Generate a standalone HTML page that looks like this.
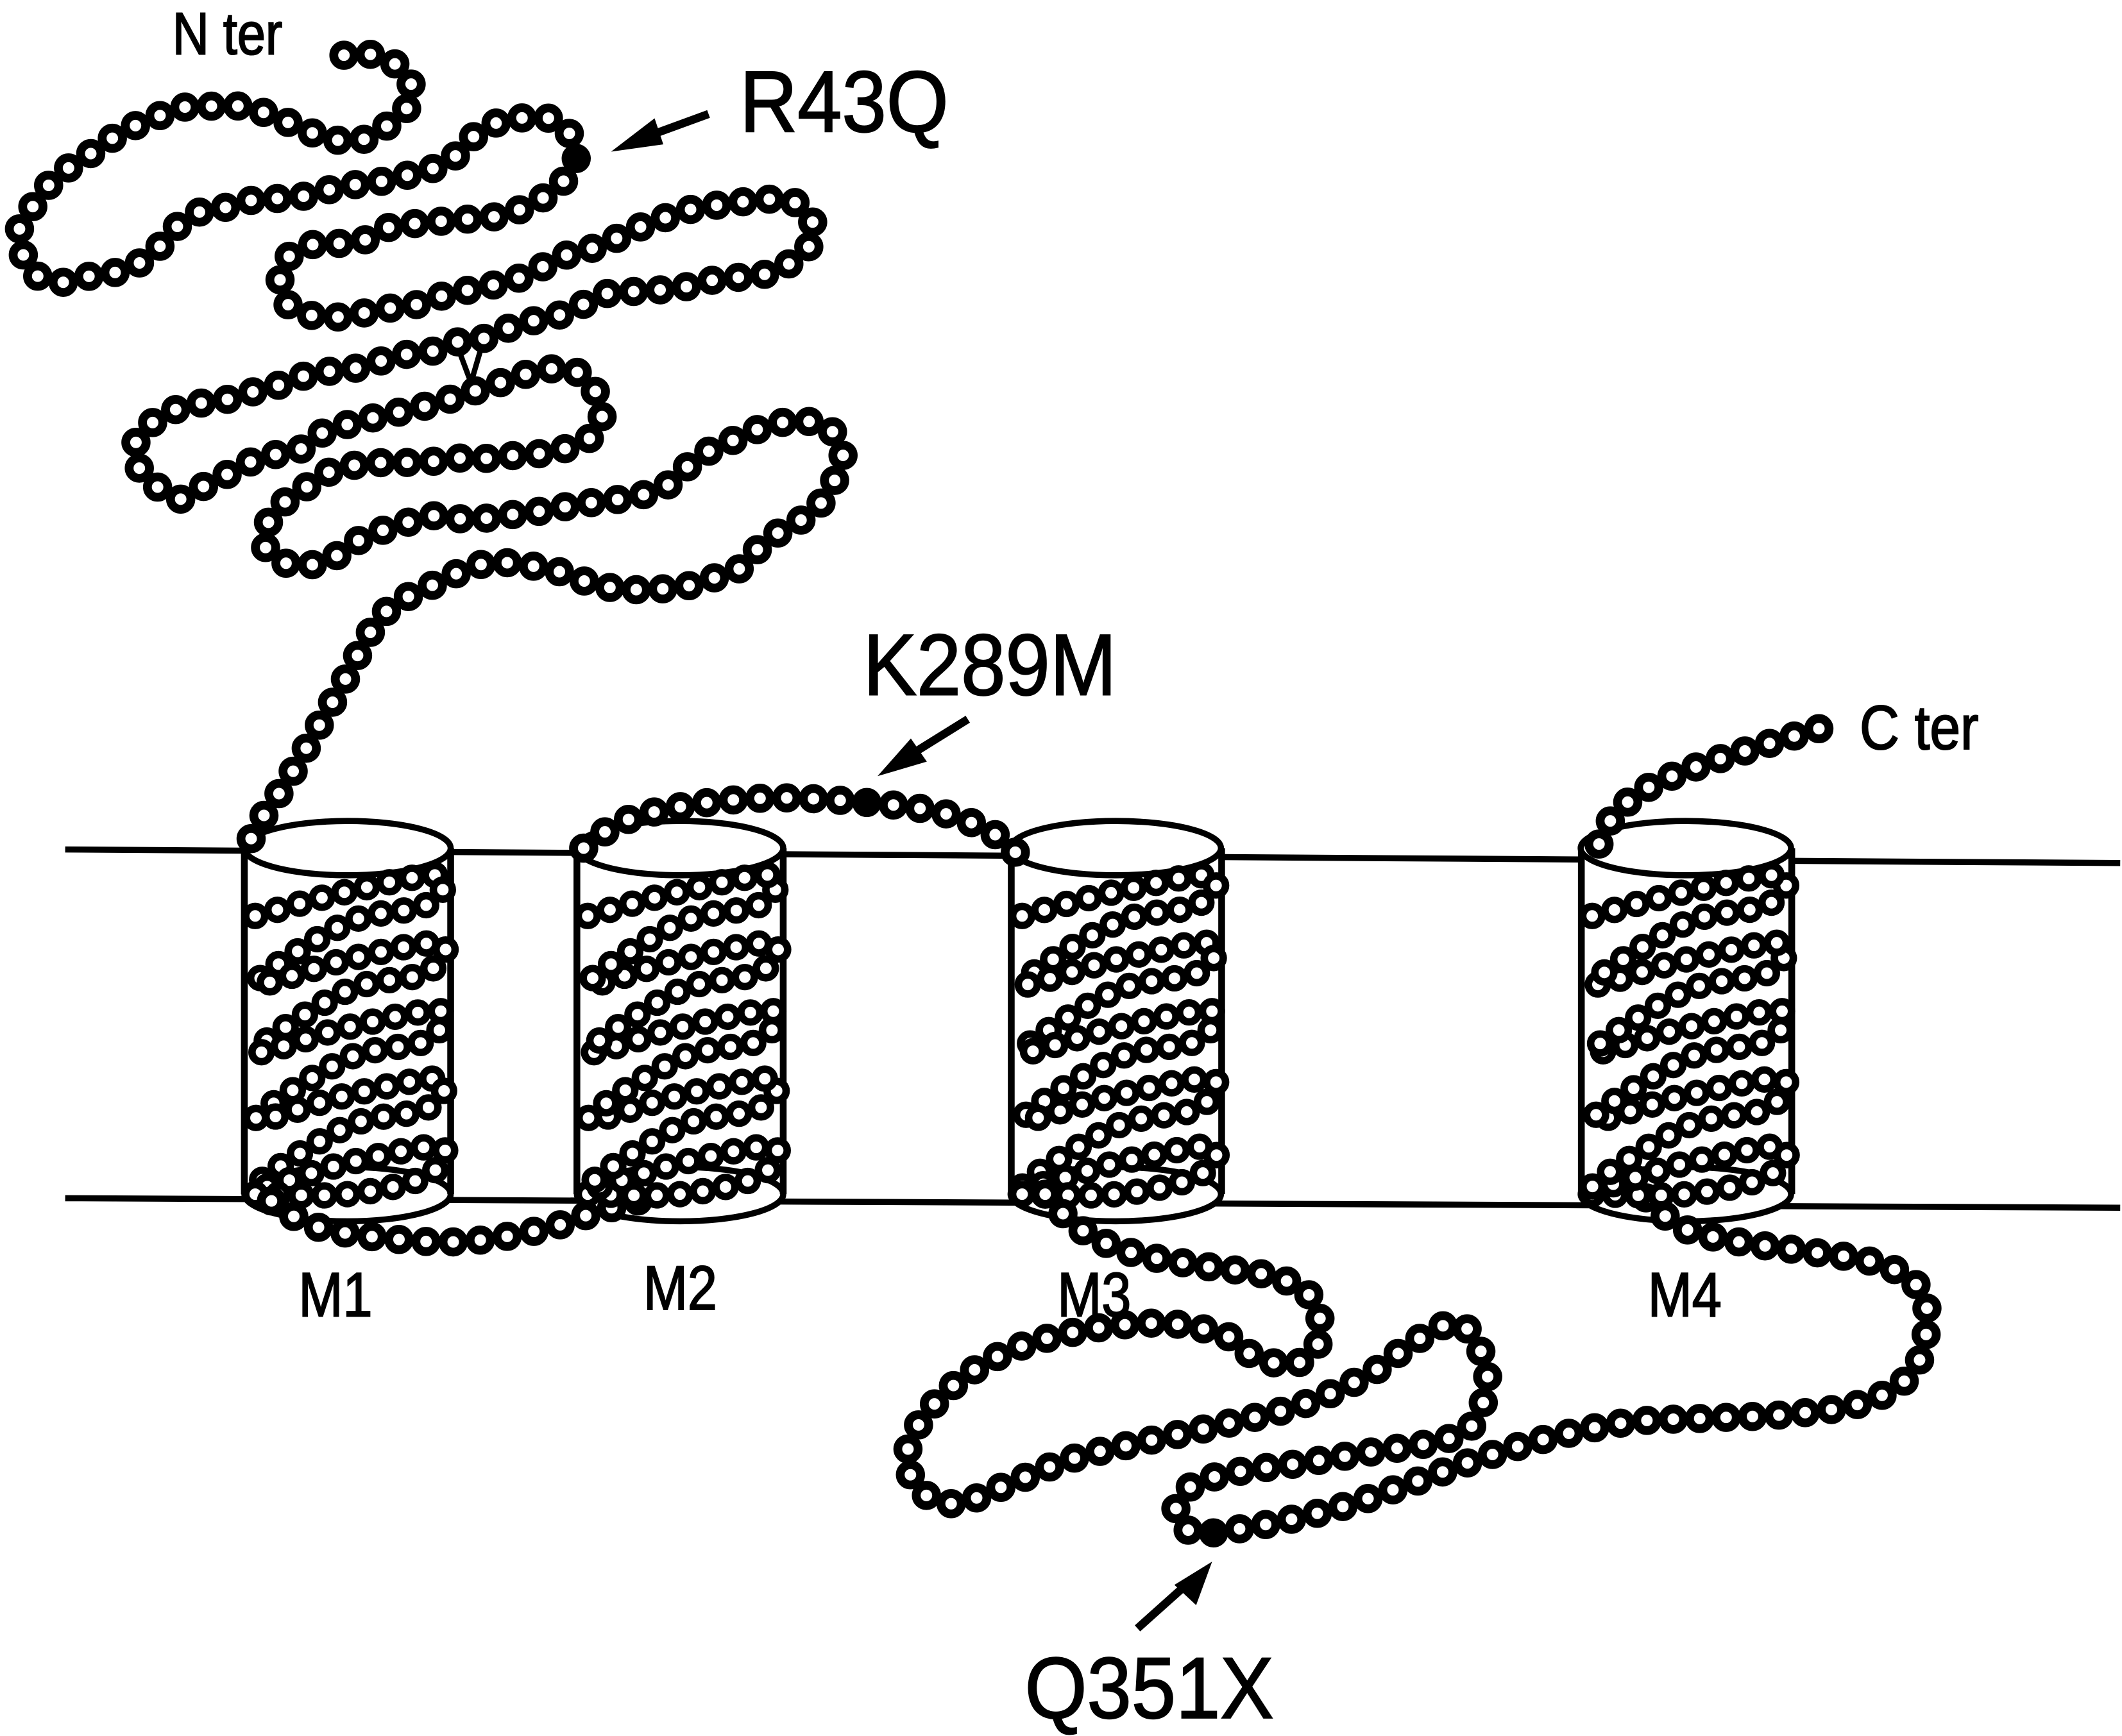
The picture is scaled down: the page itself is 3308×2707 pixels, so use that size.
<!DOCTYPE html>
<html><head><meta charset="utf-8"><style>
html,body{margin:0;padding:0;background:#fff;}
svg{display:block;}
text{font-family:"Liberation Sans",sans-serif;fill:#000;stroke:#000;stroke-width:1;}
</style></head><body>
<svg id="s" width="3308" height="2707" viewBox="0 0 1563.3 1279.3" xmlns="http://www.w3.org/2000/svg">
<rect x="0" y="0" width="1563.3" height="1279.3" fill="#fff"/>
<g stroke="#000" stroke-width="4.5" fill="none">
<line x1="48" y1="626" x2="1562" y2="636"/>
<line x1="48" y1="883" x2="1562" y2="890"/>
</g>
<g id="cyl"></g>
<g id="beads"></g>
<g stroke="#000" stroke-width="4" fill="none">
<line x1="338" y1="258" x2="347" y2="282"/><line x1="354" y1="258" x2="347" y2="282"/>
</g>
<g fill="#000" stroke="#000">
<line x1="522" y1="84" x2="470" y2="103" stroke-width="6"/><polygon points="452,111 482,88 488,106"/>
<line x1="713" y1="530" x2="668" y2="558" stroke-width="6"/><polygon points="648,571 671,545 682,561"/>
<line x1="838" y1="1200" x2="876" y2="1166" stroke-width="6"/><polygon points="892,1152 881,1182 866,1168"/>
</g>
<text x="127" y="40" font-size="44" transform="translate(127 0) scale(0.85 1) translate(-127 0)">N ter</text>
<text x="545" y="97" font-size="64" transform="translate(545 0) scale(0.92 1) translate(-545 0)">R43Q</text>
<text x="636" y="512" font-size="64" transform="translate(636 0) scale(0.92 1) translate(-636 0)">K289M</text>
<text x="1370" y="552" font-size="46" transform="translate(1370 0) scale(0.88 1) translate(-1370 0)">C ter</text>
<text x="755" y="1266" font-size="64" transform="translate(755 0) scale(0.92 1) translate(-755 0)">Q351X</text>
<text x="220" y="970" font-size="46" transform="translate(220 0) scale(0.85 1) translate(-220 0)">M1</text>
<text x="474" y="965" font-size="46" transform="translate(474 0) scale(0.85 1) translate(-474 0)">M2</text>
<text x="779" y="970" font-size="46" transform="translate(779 0) scale(0.85 1) translate(-779 0)">M3</text>
<text x="1214" y="970" font-size="46" transform="translate(1214 0) scale(0.85 1) translate(-1214 0)">M4</text>
</svg>
<script>
const NS="http://www.w3.org/2000/svg";
const B=document.getElementById('beads'),C=document.getElementById('cyl');
function el(t,a,p){const e=document.createElementNS(NS,t);for(const k in a)e.setAttribute(k,a[k]);(p||B).appendChild(e);return e;}
function cr(pts){let d="M"+pts[0][0]+","+pts[0][1];for(let i=0;i<pts.length-1;i++){const p0=pts[Math.max(0,i-1)],p1=pts[i],p2=pts[i+1],p3=pts[Math.min(pts.length-1,i+2)];
d+=" C"+(p1[0]+(p2[0]-p0[0])/6)+","+(p1[1]+(p2[1]-p0[1])/6)+" "+(p2[0]-(p3[0]-p1[0])/6)+","+(p2[1]-(p3[1]-p1[1])/6)+" "+p2[0]+","+p2[1];}return d;}
function chain(pts,r,sw,sp,filled){const p=el('path',{d:cr(pts),fill:'none',stroke:'none'});const L=p.getTotalLength();const n=Math.round(L/sp);
const qs=[];for(let i=0;i<=n;i++)qs.push(p.getPointAtLength(L*i/n));
const fi=new Set();(filled||[]).forEach(fp=>{let b=-1,bd=1e9;qs.forEach((q,i)=>{const d=Math.hypot(q.x-fp[0],q.y-fp[1]);if(d<bd){bd=d;b=i;}});fi.add(b);});
qs.forEach((q,i)=>el('circle',{cx:q.x,cy:q.y,r:r,fill:fi.has(i)?'#000':'#fff',stroke:'#000','stroke-width':sw}));}
[[256,180,332],[501,425,577],[822,745,900],[1242,1165,1320]].forEach(([c,l,r])=>{
 el('rect',{x:l,y:625,width:r-l,height:255,fill:'#fff',stroke:'none'},C);
 el('ellipse',{cx:c,cy:880,rx:(r-l)/2,ry:20,fill:'#fff',stroke:'#000','stroke-width':4.5},C);
 el('line',{x1:l,y1:625,x2:l,y2:880,stroke:'#000','stroke-width':5},C);
 el('line',{x1:r,y1:625,x2:r,y2:880,stroke:'#000','stroke-width':5},C);
 el('ellipse',{cx:c,cy:625,rx:(r-l)/2,ry:20,fill:'#fff',stroke:'#000','stroke-width':4.5},C);
});
function helix(l,r,down){const pts=[];const L=l+8,R=r-8;
 for(let i=0;i<5;i++){const y=645+i*50;pts.push([L,y+30]);pts.push([(L+R)/2,y+12]);pts.push([R,y]);pts.push([R-10,y+22]);pts.push([(L+R)/2,y+35]);}
 pts.push([L,880]);return down?pts:pts.reverse();}
const N=[[600,135],[655,135],[705,175],[720,240],[690,290],[645,335],[600,345],[535,320],[480,285],[420,260],[360,260],[310,265],[260,295],[215,320],[170,365],[130,400],[90,445],[60,500],[35,550],[40,620],[60,670],[110,690],[170,670],[220,660],[270,615],[300,565],[345,520],[400,505],[455,485],[510,485],[570,465],[625,450],[680,440],[730,420],[780,400],[810,355],[850,310],[900,290],[960,290],[995,330],[1005,390],[985,440],[940,490],[880,525],[820,535],[735,545],[680,555],[630,590],[590,595],[540,600],[495,640],[490,700],[510,755],[565,775],[615,770],[670,755],[725,745],[780,720],[850,700],[905,680],[950,650],[995,620],[1050,600],[1100,565],[1155,535],[1210,510],[1260,500],[1320,490],[1380,490],[1420,550],[1410,605],[1370,650],[1320,675],[1260,680],[1200,700],[1140,710],[1050,720],[1000,760],[960,775],[900,795],[850,825],[800,835],[750,860],[690,870],[640,895],[590,905],[540,915],[490,940],[435,960],[385,980],[330,990],[280,1020],[240,1070],[240,1135],[270,1185],[315,1220],[360,1185],[410,1150],[460,1115],[515,1105],[560,1060],[600,1040],[655,1020],[720,1000],[775,980],[830,955],[885,930],[945,905],[1000,905],[1040,960],[1050,1025],[1030,1070],[965,1105],[915,1110],[855,1120],[795,1120],[740,1130],[680,1130],[630,1135],[580,1150],[530,1195],[480,1250],[460,1325],[495,1375],[565,1375],[620,1325],[680,1290],[730,1270],[765,1260],[820,1270],[880,1260],[940,1250],[1000,1235],[1050,1225],[1105,1215],[1160,1190],[1200,1140],[1240,1100],[1290,1070],[1340,1040],[1390,1030],[1440,1040],[1470,1100],[1460,1160],[1440,1215],[1410,1260],[1360,1300],[1320,1345],[1290,1390],[1240,1415],[1190,1435],[1135,1440],[1085,1440],[1030,1425],[970,1395],[910,1380],[855,1375],[800,1400],[755,1430],[710,1460],[670,1500],[640,1560]].map(p=>[p[0]*0.4223,p[1]*0.3015]);
const A=N.concat([[252,505],[232,540],[212,575],[195,600],[185,618]]);
const R1=7.5,S1=6.5,P1=19.5,R2=7,S2=5.5,P2=17;
chain(A,R1,S1,P1,[[424,118]]);
chain(helix(180,332,true),R2,S2,P2);
chain([[200,885],[230,903],[280,912],[340,915],[400,906],[440,893],[470,885]],R1,S1,P1);
chain(helix(425,577,false),R2,S2,P2);
chain([[430,625],[460,605],[510,593],[570,588],[634,591],[690,598],[728,612],[748,628]],R1,S1,P1,[[634,591]]);
chain(helix(745,900,true),R2,S2,P2);
chain([[770,880],[795,905],[830,922],[880,932],[935,940],[965,955],[973,985],[955,1005],[925,1000],[905,985],[880,978],[850,975],[800,980],[750,993],[710,1015],[680,1045],[668,1075],[680,1100],[705,1108],[740,1095],[790,1075],[845,1062],[900,1050],[960,1035],[1010,1012],[1040,990],[1070,975],[1085,985],[1096,1015],[1085,1050],[1060,1062],[1010,1070],[960,1078],[910,1085],[878,1095],[866,1115],[880,1130],[903,1128],[940,1122],[990,1110],[1040,1093],[1090,1075],[1140,1060],[1200,1048],[1260,1045],[1320,1042],[1375,1033],[1410,1010],[1420,970],[1410,945],[1380,930],[1330,922],[1280,915],[1240,905],[1215,885],[1200,868]],R1,S1,P1,[[903,1128]]);
chain(helix(1165,1320,false),R2,S2,P2);
chain([[1178,622],[1190,600],[1215,580],[1250,565],[1290,552],[1340,537]],R1,S1,P1);
</script>
</body></html>
